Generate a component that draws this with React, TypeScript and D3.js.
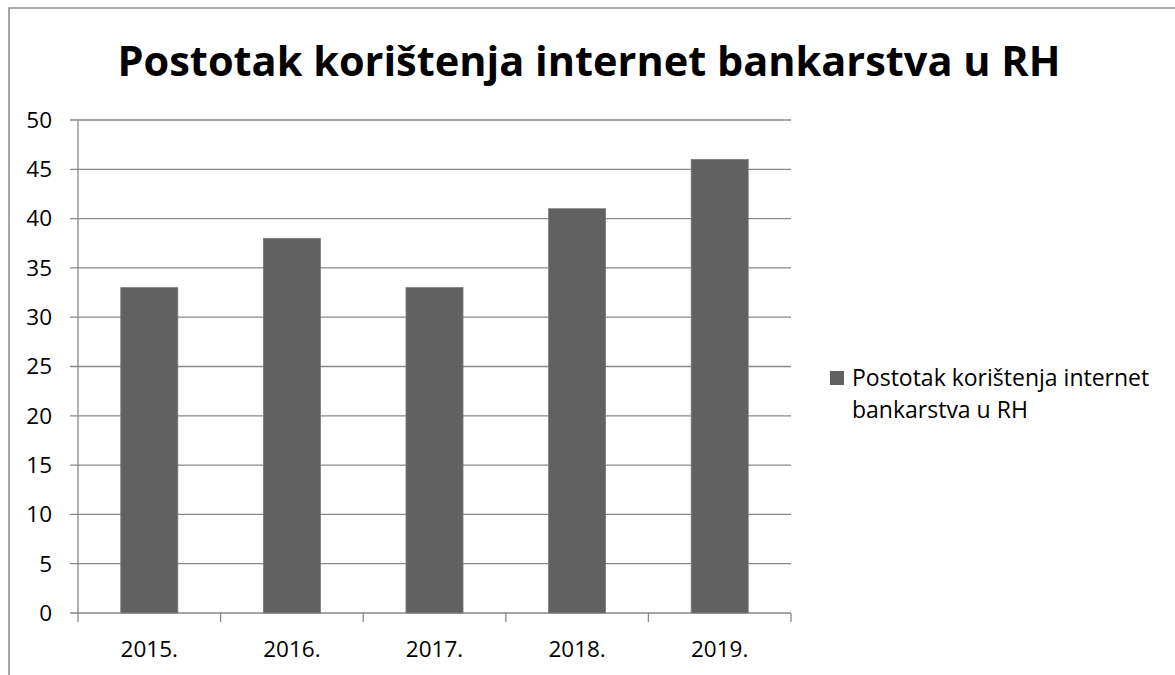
import React from 'react';
import * as d3 from 'd3';

const title = 'Postotak korištenja internet bankarstva u RH';
const years = ['2015.', '2016.', '2017.', '2018.', '2019.'];
const values = [33, 38, 33, 41, 46];
const yTicks = [0, 5, 10, 15, 20, 25, 30, 35, 40, 45, 50];
const legendLines = ['Postotak korištenja internet', 'bankarstva u RH'];

const width = 1175;
const height = 675;
const plot = { left: 78, right: 791, top: 120, bottom: 613 };
const font = '"Open Sans", sans-serif';
const gridColor = '#898989';
const barColor = '#616161';

export default function App() {
  const x = d3.scaleBand<string>()
    .domain(years)
    .range([plot.left, plot.right])
    .paddingInner(0.6)
    .paddingOuter(0.3);

  const y = d3.scaleLinear()
    .domain([0, 50])
    .range([plot.bottom, plot.top]);

  // category boundaries for the x tick marks
  const step = (plot.right - plot.left) / years.length;
  const boundaries = d3.range(years.length + 1).map((i) => plot.left + i * step);

  return (
    <svg
      width={width}
      height={height}
      style={{ position: 'absolute', left: 0, top: 0, background: '#fff' }}
      fontFamily={font}
    >
      <rect x={9} y={8} width={width} height={height} fill="#fff" stroke="#8c8c8c" strokeWidth={1.5} />

      <text x={589} y={76} textAnchor="middle" fontSize={41.5} fontWeight="bold" fill="#000">
        {title}
      </text>

      {/* gridlines and y labels */}
      {yTicks.map((t) => (
        <g key={t}>
          <line x1={plot.left - 8} x2={plot.right} y1={y(t)} y2={y(t)} stroke={gridColor} strokeWidth={1.3} />
          <text x={52} y={y(t)} dy="0.35em" textAnchor="end" fontSize={22.5} fill="#000">
            {t}
          </text>
        </g>
      ))}

      {/* y axis */}
      <line x1={plot.left} x2={plot.left} y1={plot.top} y2={plot.bottom} stroke={gridColor} strokeWidth={1.3} />

      {/* x tick marks */}
      {boundaries.map((bx, i) => (
        <line key={i} x1={bx} x2={bx} y1={plot.bottom} y2={plot.bottom + 9} stroke={gridColor} strokeWidth={1.3} />
      ))}

      {/* bars */}
      {values.map((v, i) => (
        <rect
          key={years[i]}
          x={x(years[i])}
          y={y(v)}
          width={x.bandwidth()}
          height={y(0) - y(v)}
          fill={barColor}
          stroke="#7a7a7a"
          strokeWidth={0.8}
        />
      ))}

      {/* x labels */}
      {years.map((yr) => (
        <text
          key={yr}
          x={(x(yr) ?? 0) + x.bandwidth() / 2}
          y={657}
          textAnchor="middle"
          fontSize={22.5}
          fill="#000"
        >
          {yr}
        </text>
      ))}

      {/* legend */}
      <rect x={830} y={371} width={14} height={14} fill={barColor} />
      {legendLines.map((line, i) => (
        <text key={i} x={852} y={386 + i * 32} fontSize={23} fill="#000">
          {line}
        </text>
      ))}
    </svg>
  );
}
